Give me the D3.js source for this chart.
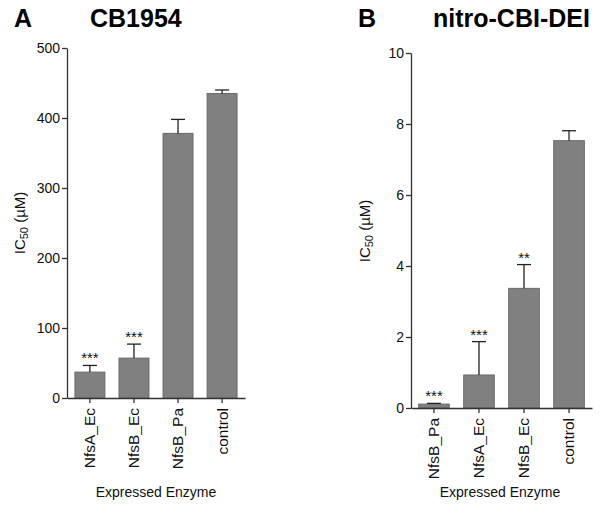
<!DOCTYPE html>
<html>
<head>
<meta charset="utf-8">
<script src="https://cdn.jsdelivr.net/npm/d3@7"></script>
<style>
  html, body { margin: 0; padding: 0; background: #fff; }
  svg { display: block; font-family: Arial, "Liberation Sans", sans-serif; }
</style>
</head>
<body>
<svg id="chart" width="600" height="513"></svg>
<script>
// ---- Data ----
const catsA = ["NfsA_Ec", "NfsB_Ec", "NfsB_Pa", "control"];
const valsA = [37, 57, 378, 435];
const errA  = [9.5, 20, 20, 5];
const sigA  = ["***", "***", "", ""];
const ticksA = [0, 100, 200, 300, 400, 500];

const catsB = ["NfsB_Pa", "NfsA_Ec", "NfsB_Ec", "control"];
const valsB = [0.11, 0.93, 3.37, 7.53];
const errB  = [0.02, 0.94, 0.67, 0.28];
const sigB  = ["***", "***", "**", ""];
const ticksB = [0, 2, 4, 6, 8, 10];

const svg = d3.select("#chart");
const axisColor = "#333";
const barFill = "#808080";
const barStroke = "#6a6a6a";
const FONT = "Arial, 'Liberation Sans', sans-serif";

function panel(cfg) {
  const g = svg.append("g");
  const x = d3.scaleBand().domain(cfg.cats).range([cfg.x0, cfg.x1])
    .paddingInner(0.32).paddingOuter(cfg.outer);
  const y = d3.scaleLinear().domain([0, cfg.ymax]).range([cfg.yb, cfg.yt]);
  const data = cfg.cats.map((c, i) => ({c, v: cfg.vals[i], e: cfg.errs[i], s: cfg.sig[i]}));

  // bars
  g.selectAll("rect.bar").data(data).enter().append("rect")
    .attr("x", d => x(d.c)).attr("width", x.bandwidth())
    .attr("y", d => y(d.v)).attr("height", d => y(0) - y(d.v))
    .attr("fill", barFill).attr("stroke", barStroke).attr("stroke-width", 1);

  // error bars (upper only)
  const cap = 14;
  data.forEach(d => {
    const cx = x(d.c) + x.bandwidth() / 2;
    g.append("line").attr("x1", cx).attr("x2", cx)
      .attr("y1", y(d.v)).attr("y2", y(d.v + d.e))
      .attr("stroke", "#222").attr("stroke-width", 1.3);
    g.append("line").attr("x1", cx - cap / 2).attr("x2", cx + cap / 2)
      .attr("y1", y(d.v + d.e)).attr("y2", y(d.v + d.e))
      .attr("stroke", "#222").attr("stroke-width", 1.3);
    if (d.s) {
      g.append("text").attr("x", cx).attr("y", y(d.v + d.e) - 2)
        .attr("text-anchor", "middle").attr("font-size", 15)
        .attr("font-family", FONT)
        .attr("fill", "#111").text(d.s);
    }
  });

  // y axis
  const yAxis = g.append("g").attr("transform", `translate(${cfg.x0},0)`)
    .call(d3.axisLeft(y).tickValues(cfg.ticks).tickSize(5).tickPadding(2).tickSizeOuter(0));
  yAxis.attr("font-family", FONT).attr("font-size", 14);
  yAxis.select(".domain").attr("stroke", axisColor).attr("stroke-width", 1.3);
  yAxis.selectAll(".tick line").attr("stroke", axisColor).attr("stroke-width", 1.3);
  yAxis.selectAll(".tick text").attr("font-size", 14).attr("fill", "#111");

  // x axis
  const xAxis = g.append("g").attr("transform", `translate(0,${cfg.yb})`)
    .call(d3.axisBottom(x).tickSize(5).tickSizeOuter(0).tickPadding(5));
  xAxis.attr("font-family", FONT).attr("font-size", 15);
  xAxis.select(".domain").attr("stroke", axisColor).attr("stroke-width", 1.3);
  xAxis.selectAll(".tick line").attr("stroke", axisColor).attr("stroke-width", 1.3);
  xAxis.selectAll(".tick text").attr("font-size", 15.5).attr("fill", "#111")
    .attr("transform", "rotate(-90)")
    .attr("text-anchor", "end")
    .attr("x", -10).attr("y", 0).attr("dy", "0.35em");

  // y axis label
  const yl = g.append("text")
    .attr("transform", `translate(${cfg.ylx},${cfg.yly}) rotate(-90)`)
    .attr("text-anchor", "middle").attr("font-size", 15).attr("fill", "#111")
    .attr("font-family", FONT);
  yl.append("tspan").text("IC");
  yl.append("tspan").attr("font-size", 11).attr("dy", 3).text("50");
  yl.append("tspan").attr("dy", -3).text(" (\u00B5M)");

  // x axis title
  g.append("text").attr("x", cfg.xtx).attr("y", 497)
    .attr("text-anchor", "middle").attr("font-size", 14).attr("fill", "#111")
    .attr("font-family", FONT)
    .text("Expressed Enzyme");

  // panel letter and title
  g.append("text").attr("x", cfg.letterX).attr("y", 27)
    .attr("font-size", 25).attr("font-weight", "bold").attr("fill", "#000")
    .attr("font-family", FONT)
    .text(cfg.letter);
  g.append("text").attr("x", cfg.titleX).attr("y", 27)
    .attr("font-size", 25).attr("font-weight", "bold").attr("fill", "#000")
    .attr("font-family", FONT)
    .text(cfg.title);
}

panel({
  cats: catsA, vals: valsA, errs: errA, sig: sigA, ticks: ticksA, ymax: 500,
  x0: 67, x1: 245, yb: 398, yt: 48, outer: 0.18,
  ylx: 25, yly: 223, xtx: 156,
  letter: "A", letterX: 14, title: "CB1954", titleX: 90
});

panel({
  cats: catsB, vals: valsB, errs: errB, sig: sigB, ticks: ticksB, ymax: 10,
  x0: 411, x1: 592, yb: 408, yt: 53, outer: 0.17,
  ylx: 370, yly: 231, xtx: 500,
  letter: "B", letterX: 358, title: "nitro-CBI-DEI", titleX: 433
});
</script>
</body>
</html>
